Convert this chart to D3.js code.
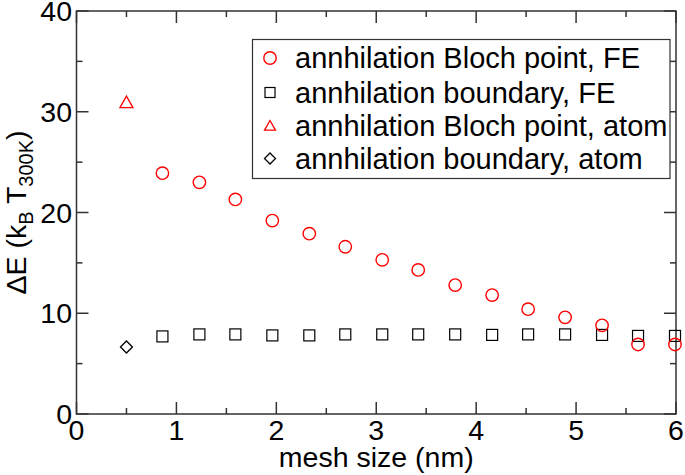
<!DOCTYPE html>
<html><head><meta charset="utf-8">
<script src="https://cdn.jsdelivr.net/npm/d3@7"></script>
<style>body{margin:0;background:#fff}svg{display:block;font-family:"Liberation Sans",Arial,sans-serif}</style>
</head><body><svg id="c" width="685" height="475"></svg>
<script>
const meshFE = [0.86,1.23,1.59,1.96,2.33,2.69,3.06,3.42,3.79,4.16,4.52,4.89,5.26,5.62,5.99];
const blochFE = [23.9,23.0,21.3,19.2,17.9,16.6,15.3,14.3,12.8,11.8,10.4,9.6,8.8,6.9,6.9];
const boundaryFE = [7.7,7.9,7.9,7.8,7.8,7.9,7.9,7.9,7.9,7.85,7.9,7.9,7.85,7.75,7.75];
const meshAtom = [0.5];
const blochAtom = [30.9];
const boundaryAtom = [6.65];
const xTicks = [0,1,2,3,4,5,6];
const yTicks = [0,10,20,30,40];
const legendLabels = ["annhilation Bloch point, FE","annhilation boundary, FE","annhilation Bloch point, atom","annhilation boundary, atom"];

const FS = 28.5;
const svg = d3.select("#c");
const L=76.5, R=676, T=11, B=414;
const x = d3.scaleLinear().domain([0,6]).range([L,R]);
const y = d3.scaleLinear().domain([0,40]).range([B,T]);
const fc = "#333";

// ticks (inward) on all four sides
const g = svg.append("g");
const xMinor = d3.range(0.5,6,1), yMinor = d3.range(5,40,10);
function vt(v,len,top){ g.append("line").attr("x1",x(v)).attr("x2",x(v))
  .attr("y1",top?T:B).attr("y2",top?T+len:B-len).attr("stroke",fc).attr("stroke-width",1.5); }
function ht(v,len,right){ g.append("line").attr("y1",y(v)).attr("y2",y(v))
  .attr("x1",right?R:L).attr("x2",right?R-len:L+len).attr("stroke",fc).attr("stroke-width",1.5); }
xTicks.forEach(v=>{vt(v,12,false);vt(v,12,true);});
xMinor.forEach(v=>{vt(v,6,false);vt(v,6,true);});
yTicks.forEach(v=>{ht(v,12,false);ht(v,12,true);});
yMinor.forEach(v=>{ht(v,6,false);ht(v,6,true);});
g.append("rect").attr("x",L).attr("y",T).attr("width",R-L).attr("height",B-T)
  .attr("fill","none").attr("stroke",fc).attr("stroke-width",1.5);

// tick labels
svg.selectAll(".xl").data(xTicks).enter().append("text")
  .attr("x",d=>x(d)).attr("y",440).attr("text-anchor","middle")
  .attr("font-size",FS).text(d=>d);
svg.selectAll(".yl").data(yTicks).enter().append("text")
  .attr("x",72).attr("y",d=>y(d)+10).attr("text-anchor","end")
  .attr("font-size",FS).text(d=>d);

// axis titles
svg.append("text").attr("x",(L+R)/2).attr("y",467).attr("text-anchor","middle")
  .attr("font-size",FS).text("mesh size (nm)");
const yt = svg.append("text").attr("transform",`translate(26,${(T+B)/2}) rotate(-90)`)
  .attr("text-anchor","middle").attr("font-size",FS);
yt.append("tspan").text("ΔE (k");
yt.append("tspan").attr("font-size",20).attr("dy",7).text("B");
yt.append("tspan").attr("dy",-7).text(" T");
yt.append("tspan").attr("font-size",20).attr("dy",7).text("300K");
yt.append("tspan").attr("dy",-7).text(")");

// markers
const red="#ff0000", blk="#000";
function circ(sel,cx,cy,col){ sel.append("circle").attr("cx",cx).attr("cy",cy).attr("r",6.2)
  .attr("fill","none").attr("stroke",col).attr("stroke-width",1.4); }
function sq(sel,cx,cy,col,s=11){ sel.append("rect").attr("x",cx-s/2).attr("y",cy-s/2).attr("width",s).attr("height",s)
  .attr("fill","none").attr("stroke",col).attr("stroke-width",1.2); }
function tri(sel,cx,cy,col,s=6.5){ sel.append("path").attr("d",`M${cx},${cy-s}L${cx+s},${cy+s*0.75}L${cx-s},${cy+s*0.75}Z`)
  .attr("fill","none").attr("stroke",col).attr("stroke-width",1.3); }
function dia(sel,cx,cy,col,s=6){ sel.append("path").attr("d",`M${cx},${cy-s}L${cx+s},${cy}L${cx},${cy+s}L${cx-s},${cy}Z`)
  .attr("fill","none").attr("stroke",col).attr("stroke-width",1.3); }

const m = svg.append("g");
meshFE.forEach((v,i)=>sq(m,x(v),y(boundaryFE[i]),blk));
meshFE.forEach((v,i)=>circ(m,x(v),y(blochFE[i]),red));
meshAtom.forEach((v,i)=>tri(m,x(v),y(blochAtom[i]),red));
meshAtom.forEach((v,i)=>dia(m,x(v),y(boundaryAtom[i]),blk));

// legend
const lg = svg.append("g");
lg.append("rect").attr("x",252.5).attr("y",39.5).attr("width",417.5).attr("height",139)
  .attr("fill","#fff").attr("stroke",fc).attr("stroke-width",1.2);
const rows=[58,92.5,126,158.5];
const drawers=[(s,cx,cy)=>circ(s,cx,cy,red),(s,cx,cy)=>sq(s,cx,cy,blk,10),(s,cx,cy)=>tri(s,cx,cy,red,5.5),(s,cx,cy)=>dia(s,cx,cy,blk,5.5)];
legendLabels.forEach((t,i)=>{
  drawers[i](lg,270,rows[i]);
  lg.append("text").attr("x",295).attr("y",rows[i]+10).attr("font-size",29).text(t);
});
</script></body></html>
